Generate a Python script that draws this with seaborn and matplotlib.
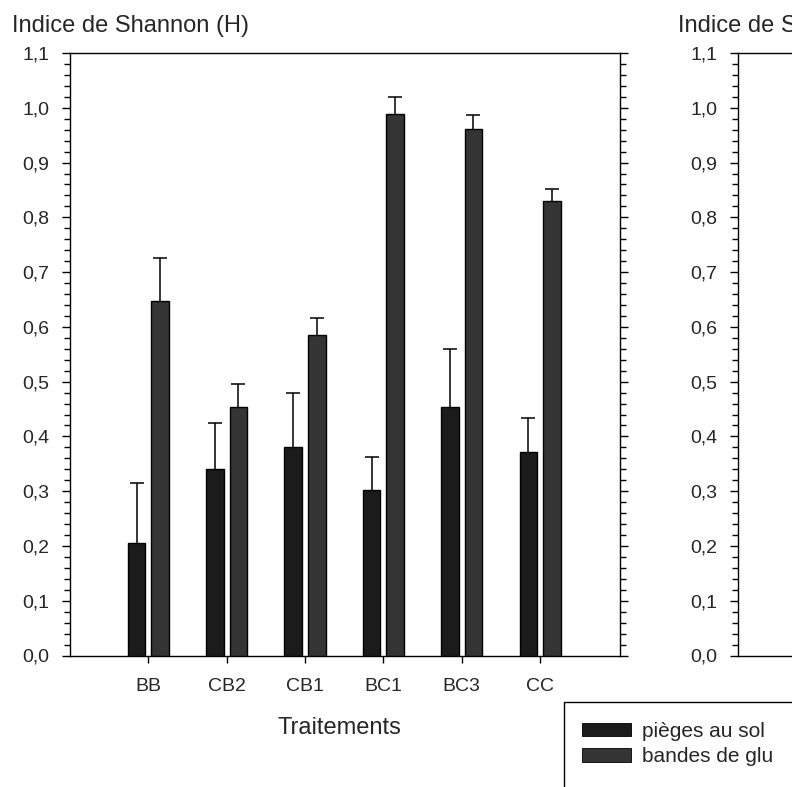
import matplotlib
matplotlib.use("Agg")
import matplotlib.pyplot as plt
from matplotlib.patches import Patch, Rectangle
from matplotlib.ticker import MultipleLocator, FuncFormatter
import numpy as np
import pandas as pd
import seaborn as sns

# Shannon diversity index per treatment, for the two trapping methods
traitements = ["BB", "CB2", "CB1", "BC1", "BC3", "CC"]
pieges_sol = [0.205, 0.341, 0.381, 0.302, 0.453, 0.371]
pieges_sol_err = [0.110, 0.083, 0.098, 0.060, 0.107, 0.063]
bandes_glu = [0.647, 0.454, 0.585, 0.988, 0.961, 0.829]
bandes_glu_err = [0.078, 0.041, 0.031, 0.031, 0.026, 0.023]
series = ["pièges au sol", "bandes de glu"]
couleurs = ["#1b1b1b", "#343434"]

df = pd.DataFrame({
    "Traitement": traitements * 2,
    "H": pieges_sol + bandes_glu,
    "Piege": [series[0]] * len(traitements) + [series[1]] * len(traitements),
})

sns.set_style("ticks")
plt.rcParams["font.family"] = ["Liberation Sans", "DejaVu Sans"]

W, H = 792, 787
fig = plt.figure(figsize=(W / 100, H / 100), dpi=100)

def fx(px):
    return px / W

def fy(py):
    return 1 - py / H

ax_bottom, ax_top = fy(655.5), fy(53)
ax = fig.add_axes([fx(70), ax_bottom, fx(620) - fx(70), ax_top - ax_bottom])
ax2 = fig.add_axes([fx(738), ax_bottom, fx(620) - fx(70), ax_top - ax_bottom])

sns.barplot(data=df, x="Traitement", y="H", hue="Piege", hue_order=series,
            palette=couleurs, width=0.6, gap=0.25, edgecolor="black",
            linewidth=1.0, errorbar=None, legend=False, ax=ax, zorder=3)

# error bars behind the bars, so only the upper half shows
for cont, errs in zip(ax.containers, [pieges_sol_err, bandes_glu_err]):
    xs = [b.get_x() + b.get_width() / 2 for b in cont]
    ys = [b.get_height() for b in cont]
    ax.errorbar(xs, ys, yerr=errs, fmt="none", ecolor="black",
                elinewidth=1.1, capsize=5, capthick=1.1, zorder=2)

fmt = FuncFormatter(lambda v, p: f"{v:.1f}".replace(".", ","))

for a in (ax, ax2):
    a.set_ylim(0, 1.1)
    a.yaxis.set_major_locator(MultipleLocator(0.1))
    a.yaxis.set_minor_locator(MultipleLocator(0.02))
    a.yaxis.set_major_formatter(fmt)
    a.tick_params(axis="y", which="major", direction="out", length=6,
                  width=1, pad=9, labelsize=14, color="black")
    a.tick_params(axis="y", which="minor", direction="out", length=4,
                  width=1, color="black")
    for s in a.spines.values():
        s.set_color("black")
        s.set_linewidth(1.0)
    a.set_xlabel("")
    a.set_ylabel("")
    a.set_facecolor("white")

ax.set_xlim(-1, 6.02)
ax.tick_params(axis="y", which="both", right=True)
ax.tick_params(axis="x", direction="out", length=5, width=1, pad=11,
               labelsize=14, color="black")
ax.set_xlabel("Traitements", fontsize=17)
ax.xaxis.set_label_coords((339 - 70) / 550, -(728 - 655.5) / 602.5)
ax.xaxis.label.set_va("center")

ax2.set_xticks([])
ax2.set_xlim(0, 1)

fig.text(fx(12), fy(32), "Indice de Shannon (H)", fontsize=17, va="baseline", ha="left")
fig.text(fx(678), fy(32), "Indice de Shannon (H)", fontsize=17, va="baseline", ha="left")

# legend in an open box at the lower right
fig.patches.append(Rectangle((fx(564), fy(830)), fx(300), fy(702) - fy(830),
                             transform=fig.transFigure, fill=False,
                             edgecolor="black", linewidth=1.0))
handles = [Patch(facecolor=c, edgecolor="black", linewidth=0.6) for c in couleurs]
fig.legend(handles, series, loc="upper left", bbox_to_anchor=(fx(582), fy(722)),
           frameon=False, fontsize=15, handlelength=2.35, handleheight=0.63,
           handletextpad=0.55, labelspacing=0.3, borderpad=0, borderaxespad=0)

fig.savefig("out.png", dpi=100, facecolor="white")
